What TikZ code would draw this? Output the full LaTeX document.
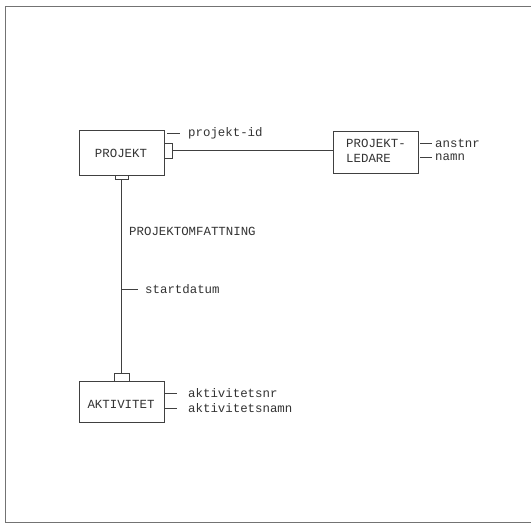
\documentclass[tikz,border=0pt]{standalone}
\usepackage{fontspec}
\setmonofont{Liberation Mono}
\begin{document}
\begin{tikzpicture}[x=1pt,y=-1pt,
  ink/.style={draw=black!75,line width=0.8pt},
  entity/.style={ink,rectangle,inner sep=0pt,fill=white},
  lbl/.style={font=\ttfamily\fontsize{12.4}{13}\selectfont,text=black!80,inner sep=0pt,anchor=west},
  keysq/.style={ink,rectangle,inner sep=0pt}]
\useasboundingbox (0,0) rectangle (531,527);
% frame
\draw[draw=black!55,line width=1pt] (531,7) -- (5,7) -- (5,522) -- (531,522);
% entities
\node[entity,minimum width=85,minimum height=45] (pr) at (121.5,152.5) {};
\node[lbl,anchor=center] (prt) at (121,153) {PROJEKT};
\node[entity,minimum width=85,minimum height=42] (pl) at (375.5,152) {};
\node[lbl] (plt1) at (346,143) {PROJEKT-};
\node[lbl] (plt2) at (346,158) {LEDARE};
\node[entity,minimum width=85,minimum height=41] (ak) at (121.5,401.5) {};
\node[lbl,anchor=center] (akt) at (121,404) {AKTIVITET};
% key squares
\node[keysq,minimum width=8,minimum height=15] (sqr) at (168,150.5) {};
\node[keysq,minimum width=13,minimum height=4] (sqb) at (121.5,177) {};
\node[keysq,minimum width=15,minimum height=8] (sqa) at (121.5,377) {};
% relationships
\draw[ink] (sqr.east) -- (pl.west |- sqr.east);
\draw[ink] (sqb.south) -- (sqa.north);
% relationship labels
\node[lbl] (omf) at (129,231) {PROJEKTOMFATTNING};
\coordinate (sd0) at (121.5,289);
\coordinate (sd1) at (138,289);
\draw[ink] (sd0) -- (sd1);
\node[lbl] (sd) at (145,289) {startdatum};
% attributes
\coordinate (a1) at (167,133); \coordinate (a1e) at (180,133);
\draw[ink] (a1) -- (a1e);
\node[lbl] (pid) at (188,133) {projekt-id};
\coordinate (b1) at (420,143); \coordinate (b1e) at (432,143);
\coordinate (b2) at (420,157); \coordinate (b2e) at (432,157);
\draw[ink] (b1) -- (b1e); \draw[ink] (b2) -- (b2e);
\node[lbl] (anr) at (435,143) {anstnr};
\node[lbl] (nmn) at (435,157) {namn};
\coordinate (c1) at (164,393); \coordinate (c1e) at (177,393);
\coordinate (c2) at (164,408); \coordinate (c2e) at (177,408);
\draw[ink] (c1) -- (c1e); \draw[ink] (c2) -- (c2e);
\node[lbl] (anr2) at (188,393) {aktivitetsnr};
\node[lbl] (anm) at (188,408) {aktivitetsnamn};
\end{tikzpicture}
\end{document}
